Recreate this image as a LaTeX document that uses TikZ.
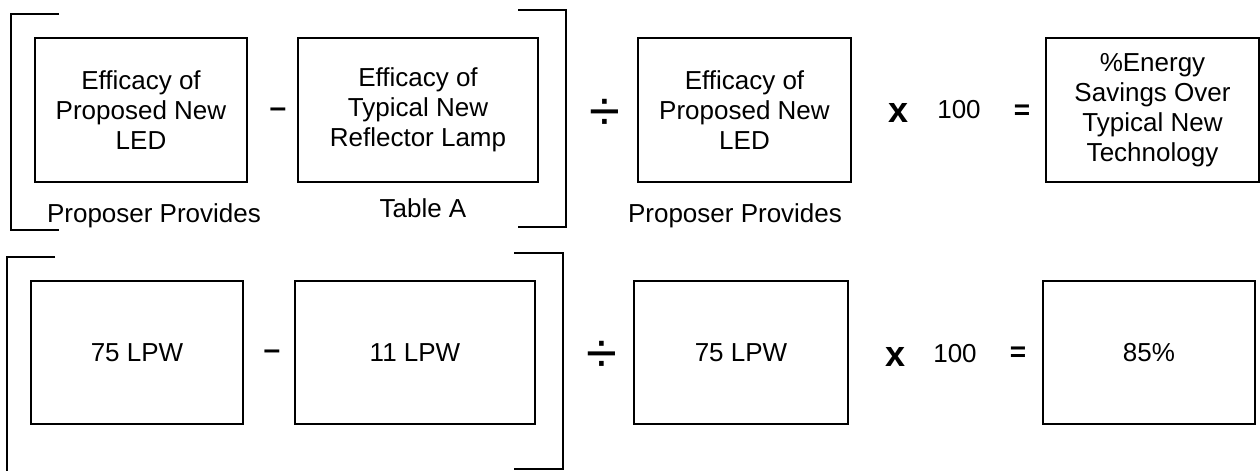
\documentclass[tikz,border=0pt]{standalone}
\usepackage{fontspec}
\setmainfont{Liberation Sans}
\tikzset{
  box/.style={draw, line width=1.8pt, inner sep=0pt, align=center, font=\fontsize{26}{30}\selectfont},
  lbl/.style={inner sep=0pt, anchor=base, font=\fontsize{26}{30}\selectfont},
  minus/.style={inner sep=0pt, anchor=base, font=\fontsize{30}{32}\selectfont\bfseries},
  divop/.style={inner sep=0pt, anchor=base, font=\fontsize{56}{60}\selectfont},
  timesop/.style={inner sep=0pt, anchor=base, font=\fontsize{36}{40}\selectfont\bfseries},
  eqop/.style={inner sep=0pt, anchor=base, font=\fontsize{28}{30}\selectfont\bfseries},
  brk/.style={line width=1.8pt},
}
\begin{document}
\begin{tikzpicture}[x=1pt,y=-1pt]
\useasboundingbox (0,0) rectangle (1260,471);
% top row
\node[box, minimum width=212pt, minimum height=144pt] (b1) at (141,110) {Efficacy of\\Proposed New\\LED};
\node[box, minimum width=240pt, minimum height=144pt] (b2) at (418,110) {Efficacy of\\Typical New\\Reflector Lamp};
\node[box, minimum width=213pt, minimum height=144pt] (b3) at (744.5,110) {Efficacy of\\Proposed New\\LED};
\node[box, minimum width=213pt, minimum height=144pt] (b4) at (1152.5,110) {\%Energy\\Savings Over\\Typical New\\Technology};
\node[lbl] (l1) at (154,222) {Proposer Provides};
\node[lbl] (l2) at (423,217) {Table A};
\node[lbl] (l3) at (735,222) {Proposer Provides};
\node[minus] (m1) at (278,117) {–};
\node[divop] (d1) at (605,130) {÷};
\node[timesop] (t1) at (898,122) {x};
\node[lbl] (h1) at (959,118) {100};
\node[eqop] (e1) at (1022,119) {=};
\draw[brk] (59,14) -- (11,14) -- (11,230) -- (59,230);
\draw[brk] (518,10) -- (566,10) -- (566,227) -- (518,227);
% bottom row
\node[box, minimum width=212pt, minimum height=143pt] (b5) at (137,352.5) {75 LPW};
\node[box, minimum width=240pt, minimum height=143pt] (b6) at (415,352.5) {11 LPW};
\node[box, minimum width=214pt, minimum height=143pt] (b7) at (741,352.5) {75 LPW};
\node[box, minimum width=212pt, minimum height=143pt] (b8) at (1149,352.5) {85\%};
\node[minus] (m2) at (272,359) {–};
\node[divop] (d2) at (602,372) {÷};
\node[timesop] (t2) at (895,366) {x};
\node[lbl] (h2) at (955,362) {100};
\node[eqop] (e2) at (1018,361) {=};
\draw[brk] (55,257) -- (7,257) -- (7,471);
\draw[brk] (514,253) -- (563,253) -- (563,469) -- (514,469);
\end{tikzpicture}
\end{document}
